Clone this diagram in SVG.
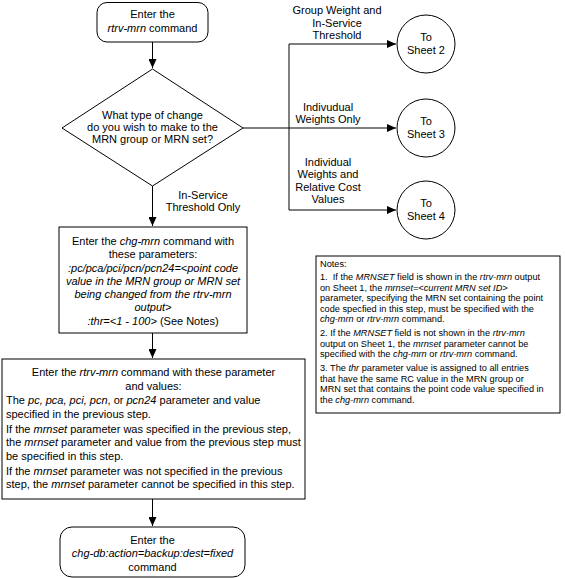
<svg xmlns="http://www.w3.org/2000/svg" width="565" height="578" viewBox="0 0 565 578">
<style>
text{font-family:"Liberation Sans",Arial,sans-serif;font-size:11px;fill:#000}
.c{text-anchor:middle}
.n{font-size:9.2px}
.i{font-style:italic}
.box{fill:#fff;stroke:#000;stroke-width:1}
.ln{fill:none;stroke:#000;stroke-width:1}
</style>
<defs>
<marker id="ah" markerWidth="9" markerHeight="8" refX="9" refY="4" orient="auto" markerUnits="userSpaceOnUse">
<path d="M0,0 L9,4 L0,8 Z" fill="#000"/>
</marker>
</defs>
<rect width="565" height="578" fill="#fff"/>
<g id="connectors">
<path class="ln" d="M152.5,42 V68" marker-end="url(#ah)"/>
<path class="ln" d="M152.5,186 V226" marker-end="url(#ah)"/>
<path class="ln" d="M152.5,333 V358" marker-end="url(#ah)"/>
<path class="ln" d="M152.5,499 V526" marker-end="url(#ah)"/>
<path class="ln" d="M243,128 H289"/>
<path class="ln" d="M289,44 V210"/>
<path class="ln" d="M289,44 H396" marker-end="url(#ah)"/>
<path class="ln" d="M289,128 H396" marker-end="url(#ah)"/>
<path class="ln" d="M289,210 H396" marker-end="url(#ah)"/>
<text class="c" x="203" y="199">In-Service</text>
<text class="c" x="203" y="211">Threshold Only</text>
<text class="c" x="337" y="14">Group Weight and</text>
<text class="c" x="337" y="27">In-Service</text>
<text class="c" x="337" y="39">Threshold</text>
<text class="c" x="328" y="111">Indivudual</text>
<text class="c" x="328" y="123">Weights Only</text>
<text class="c" x="328" y="166">Individual</text>
<text class="c" x="328" y="178">Weights and</text>
<text class="c" x="328" y="191">Relative Cost</text>
<text class="c" x="328" y="203">Values</text>
</g>
<g id="start">
<rect class="box" x="97" y="2.5" width="111" height="39.5" rx="10"/>
<text class="c" x="152.5" y="18">Enter the</text>
<text class="c" x="152.5" y="32"><tspan class="i">rtrv-mrn</tspan> command</text>
</g>
<g id="decision">
<polygon class="box" points="152.5,69 243,128 152.5,186 62,128"/>
<text class="c" x="152.5" y="119">What type of change</text>
<text class="c" x="152.5" y="131">do you wish to make to the</text>
<text class="c" x="152.5" y="143">MRN group or MRN set?</text>
</g>
<g id="sheet2">
<circle class="box" cx="426" cy="44" r="29"/>
<text class="c" x="426" y="41">To</text>
<text class="c" x="426" y="54">Sheet 2</text>
</g>
<g id="sheet3">
<circle class="box" cx="426" cy="128" r="29"/>
<text class="c" x="426" y="125">To</text>
<text class="c" x="426" y="138">Sheet 3</text>
</g>
<g id="sheet4">
<circle class="box" cx="426" cy="210" r="29"/>
<text class="c" x="426" y="207">To</text>
<text class="c" x="426" y="220">Sheet 4</text>
</g>
<g id="chg-mrn">
<rect class="box" x="59" y="227" width="188" height="106"/>
<text class="c" x="153" y="245">Enter the <tspan class="i">chg-mrn</tspan> command with</text>
<text class="c" x="153" y="258">these parameters:</text>
<text class="c i" x="153" y="271.5">:pc/pca/pci/pcn/pcn24=&lt;point code</text>
<text class="c i" x="153" y="285">value in the MRN group or MRN set</text>
<text class="c i" x="153" y="298">being changed from the rtrv-mrn</text>
<text class="c i" x="153" y="311">output&gt;</text>
<text class="c" x="153" y="324.5"><tspan class="i">:thr=&lt;1 - 100&gt;</tspan> (See Notes)</text>
</g>
<g id="rtrv-mrn">
<rect class="box" x="2" y="359" width="303" height="140"/>
<text class="c" x="153.5" y="376">Enter the <tspan class="i">rtrv-mrn</tspan> command with these parameter</text>
<text class="c" x="153.5" y="389.5">and values:</text>
<text x="6" y="404">The <tspan class="i">pc, pca, pci, pcn</tspan>, or <tspan class="i">pcn24</tspan> parameter and value</text>
<text x="6" y="417.5">specified in the previous step.</text>
<text x="6" y="432.5">If the <tspan class="i">mrnset</tspan> parameter was specified in the previous step,</text>
<text x="6" y="446">the <tspan class="i">mrnset</tspan> parameter and value from the previous step must</text>
<text x="6" y="459.5">be specified in this step.</text>
<text x="6" y="474.5">If the <tspan class="i">mrnset</tspan> parameter was not specified in the previous</text>
<text x="6" y="488">step, the <tspan class="i">mrnset</tspan> parameter cannot be specified in this step.</text>
</g>
<g id="chg-db">
<rect class="box" x="60" y="527" width="185" height="50" rx="12"/>
<text class="c" x="152.5" y="543.5">Enter the</text>
<text class="c i" x="152.5" y="557">chg-db:action=backup:dest=fixed</text>
<text class="c" x="152.5" y="570.5">command</text>
</g>
<g id="notes">
<rect class="box" x="316" y="256" width="244" height="157"/>
<text class="n" x="320" y="267">Notes:</text>
<text class="n" x="320" y="280" xml:space="preserve">1.  If the <tspan class="i">MRNSET</tspan> field is shown in the <tspan class="i">rtrv-mrn</tspan> output</text>
<text class="n" x="320" y="290.5">on Sheet 1, the <tspan class="i">mrnset=&lt;current MRN set ID&gt;</tspan></text>
<text class="n" x="320" y="301">parameter, specifying the MRN set containing the point</text>
<text class="n" x="320" y="311.5">code specfied in this step, must be specified with the</text>
<text class="n" x="320" y="322"><tspan class="i">chg-mrn</tspan> or <tspan class="i">rtrv-mrn</tspan> command.</text>
<text class="n" x="320" y="336">2. If the <tspan class="i">MRNSET</tspan> field is not shown in the <tspan class="i">rtrv-mrn</tspan></text>
<text class="n" x="320" y="346.5">output on Sheet 1, the <tspan class="i">mrnset</tspan> parameter cannot be</text>
<text class="n" x="320" y="357">specified with the <tspan class="i">chg-mrn</tspan> or <tspan class="i">rtrv-mrn</tspan> command.</text>
<text class="n" x="320" y="371">3. The <tspan class="i">thr</tspan> parameter value is assigned to all entries</text>
<text class="n" x="320" y="381.5">that have the same RC value in the MRN group or</text>
<text class="n" x="320" y="392">MRN set that contains the point code value specified in</text>
<text class="n" x="320" y="402.5">the <tspan class="i">chg-mrn</tspan> command.</text>
</g>
</svg>
